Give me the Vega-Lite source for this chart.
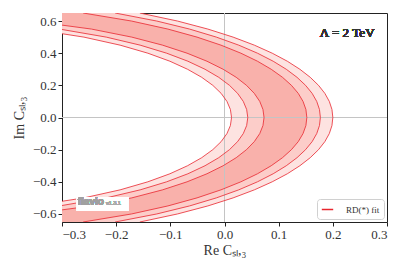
{
  "$schema": "https://vega.github.io/schema/vega-lite/v6.json",
  "width": 325,
  "height": 209,
  "autosize": {"type": "none"},
  "padding": {"left": 62, "top": 13, "right": 20, "bottom": 49},
  "background": "white",
  "config": {
    "view": {"stroke": "#222", "strokeWidth": 1},
    "axis": {
      "domain": false,
      "grid": false,
      "labelFont": "Liberation Serif",
      "labelFontSize": 13,
      "labelFontWeight": "normal",
      "labelColor": "#333",
      "labelOverlap": false,
      "labelSeparation": -20,
      "labelBound": false,
      "titleFont": "Liberation Serif",
      "titleFontSize": 14,
      "titleFontWeight": "normal",
      "titleColor": "#333",
      "tickColor": "#222",
      "tickSize": 4,
      "labelPadding": 2
    },
    "axisY": {"labelOverlap": false, "labelSeparation": -20}
  },
  "data": {
    "values": [
      {"y": -0.65, "c1": -0.6, "c2": -0.6, "c3": -0.6, "c4": -0.261, "c5": -0.2019, "c6": -0.1563},
      {"y": -0.6, "c1": -0.6, "c2": -0.4617, "c3": -0.3562, "c4": -0.1716, "c5": -0.125, "c6": -0.0868},
      {"y": -0.55, "c1": -0.355, "c2": -0.3045, "c3": -0.2456, "c4": -0.1045, "c5": -0.0645, "c6": -0.0307},
      {"y": -0.5, "c1": -0.2595, "c2": -0.2183, "c3": -0.1712, "c4": -0.0507, "c5": -0.015, "c6": 0.0159},
      {"y": -0.45, "c1": -0.1927, "c2": -0.1557, "c3": -0.1144, "c4": -0.0065, "c5": 0.0263, "c6": 0.0551},
      {"y": -0.4, "c1": -0.1415, "c2": -0.1068, "c3": -0.0691, "c4": 0.0303, "c5": 0.0609, "c6": 0.0881},
      {"y": -0.35, "c1": -0.1008, "c2": -0.0676, "c3": -0.0324, "c4": 0.0609, "c5": 0.0899, "c6": 0.116},
      {"y": -0.3, "c1": -0.0682, "c2": -0.036, "c3": -0.0025, "c4": 0.0863, "c5": 0.1141, "c6": 0.1392},
      {"y": -0.25, "c1": -0.0421, "c2": -0.0107, "c3": 0.0216, "c4": 0.1071, "c5": 0.1339, "c6": 0.1583},
      {"y": -0.2, "c1": -0.0216, "c2": 0.0092, "c3": 0.0406, "c4": 0.1236, "c5": 0.1497, "c6": 0.1736},
      {"y": -0.15, "c1": -0.0062, "c2": 0.0242, "c3": 0.055, "c4": 0.1362, "c5": 0.1618, "c6": 0.1853},
      {"y": -0.1, "c1": 0.0045, "c2": 0.0347, "c3": 0.0651, "c4": 0.145, "c5": 0.1703, "c6": 0.1935},
      {"y": -0.05, "c1": 0.0109, "c2": 0.0409, "c3": 0.071, "c4": 0.1503, "c5": 0.1753, "c6": 0.1984},
      {"y": 0.0, "c1": 0.013, "c2": 0.043, "c3": 0.073, "c4": 0.152, "c5": 0.177, "c6": 0.2},
      {"y": 0.05, "c1": 0.0109, "c2": 0.0409, "c3": 0.071, "c4": 0.1503, "c5": 0.1753, "c6": 0.1984},
      {"y": 0.1, "c1": 0.0045, "c2": 0.0347, "c3": 0.0651, "c4": 0.145, "c5": 0.1703, "c6": 0.1935},
      {"y": 0.15, "c1": -0.0062, "c2": 0.0242, "c3": 0.055, "c4": 0.1362, "c5": 0.1618, "c6": 0.1853},
      {"y": 0.2, "c1": -0.0216, "c2": 0.0092, "c3": 0.0406, "c4": 0.1236, "c5": 0.1497, "c6": 0.1736},
      {"y": 0.25, "c1": -0.0421, "c2": -0.0107, "c3": 0.0216, "c4": 0.1071, "c5": 0.1339, "c6": 0.1583},
      {"y": 0.3, "c1": -0.0682, "c2": -0.036, "c3": -0.0025, "c4": 0.0863, "c5": 0.1141, "c6": 0.1392},
      {"y": 0.35, "c1": -0.1008, "c2": -0.0676, "c3": -0.0324, "c4": 0.0609, "c5": 0.0899, "c6": 0.116},
      {"y": 0.4, "c1": -0.1415, "c2": -0.1068, "c3": -0.0691, "c4": 0.0303, "c5": 0.0609, "c6": 0.0881},
      {"y": 0.45, "c1": -0.1927, "c2": -0.1557, "c3": -0.1144, "c4": -0.0065, "c5": 0.0263, "c6": 0.0551},
      {"y": 0.5, "c1": -0.2595, "c2": -0.2183, "c3": -0.1712, "c4": -0.0507, "c5": -0.015, "c6": 0.0159},
      {"y": 0.55, "c1": -0.355, "c2": -0.3045, "c3": -0.2456, "c4": -0.1045, "c5": -0.0645, "c6": -0.0307},
      {"y": 0.6, "c1": -0.6, "c2": -0.4617, "c3": -0.3562, "c4": -0.1716, "c5": -0.125, "c6": -0.0868},
      {"y": 0.65, "c1": -0.6, "c2": -0.6, "c3": -0.6, "c4": -0.261, "c5": -0.2019, "c6": -0.1563}
    ]
  },
  "layer": [
    {
      "mark": {"type": "area", "orient": "horizontal", "clip": true, "color": "#fde3e1"},
      "encoding": {
        "y": {"field": "y", "type": "quantitative", "scale": {"domain": [-0.65, 0.65], "nice": false, "zero": false},
              "axis": {"tickCount": 7, "format": ".1f", "labelOverlap": false, "labelSeparation": -20, "title": "Im Cₛₗ,₃", "titlePadding": 6}},
        "x": {"field": "c1", "type": "quantitative", "scale": {"domain": [-0.3, 0.3], "nice": false, "zero": false},
              "axis": {"values": [-0.3, -0.2, -0.1, 0.0, 0.1, 0.2, 0.3], "format": ".1f", "labelOverlap": false, "title": "Re Cₛₗ,₃", "titlePadding": 2}},
        "x2": {"field": "c6"}
      }
    },
    {
      "mark": {"type": "area", "orient": "horizontal", "clip": true, "color": "#fccdc9"},
      "encoding": {
        "y": {"field": "y", "type": "quantitative"},
        "x": {"field": "c2", "type": "quantitative"},
        "x2": {"field": "c5"}
      }
    },
    {
      "mark": {"type": "area", "orient": "horizontal", "clip": true, "color": "#f9b1ab"},
      "encoding": {
        "y": {"field": "y", "type": "quantitative"},
        "x": {"field": "c3", "type": "quantitative"},
        "x2": {"field": "c4"}
      }
    },
    {
      "mark": {"type": "rule", "color": "#c4c4c4", "strokeWidth": 1},
      "encoding": {"x": {"datum": 0}}
    },
    {
      "mark": {"type": "rule", "color": "#c4c4c4", "strokeWidth": 1},
      "encoding": {"y": {"datum": 0}}
    },
    {
      "transform": [{"fold": ["c1", "c2", "c3", "c4", "c5", "c6"], "as": ["curve", "xv"]}],
      "mark": {"type": "line", "clip": true, "strokeWidth": 0.8},
      "encoding": {
        "y": {"field": "y", "type": "quantitative"},
        "x": {"field": "xv", "type": "quantitative"},
        "detail": {"field": "curve"},
        "order": {"field": "y", "type": "quantitative"},
        "color": {"datum": "RD(*) fit", "type": "nominal",
                  "scale": {"range": ["#e8262e"]},
                  "legend": {"title": null, "orient": "bottom-right", "offset": 3, "padding": 4,
                             "fillColor": "rgba(255,255,255,0.8)", "strokeColor": "#d0d0d0", "cornerRadius": 3,
                             "symbolType": "stroke", "symbolSize": 130, "symbolStrokeWidth": 1.5,
                             "labelFont": "Liberation Serif", "labelFontSize": 9, "labelColor": "#333", "labelOffset": 12,
                             "encode": {"symbols": {"update": {"stroke": {"value": "#f49a9a"}, "strokeWidth": {"value": 1.5}}}}}}
      }
    },
    {
      "mark": {"type": "rect", "color": "white", "opacity": 0.5},
      "encoding": {"x": {"datum": -0.273}, "x2": {"datum": -0.177}, "y": {"datum": -0.495}, "y2": {"datum": -0.582}}
    },
    {
      "mark": {"type": "text", "text": "flavio", "font": "Liberation Sans", "fontWeight": "bold", "fontSize": 10, "color": "#a0a0a0", "align": "left", "baseline": "middle"},
      "encoding": {"x": {"datum": -0.271}, "y": {"datum": -0.526}}
    },
    {
      "mark": {"type": "text", "text": "v1.3.1", "font": "Liberation Sans", "fontWeight": "normal", "fontSize": 5.5, "color": "#aaa", "align": "left", "baseline": "middle"},
      "encoding": {"x": {"datum": -0.219}, "y": {"datum": -0.532}}
    },
    {
      "mark": {"type": "text", "text": "Λ = 2 TeV", "font": "Liberation Serif", "fontWeight": "normal", "fontSize": 13, "color": "#333", "align": "right", "baseline": "middle"},
      "encoding": {"x": {"datum": 0.277}, "y": {"datum": 0.524}}
    }
  ]
}
